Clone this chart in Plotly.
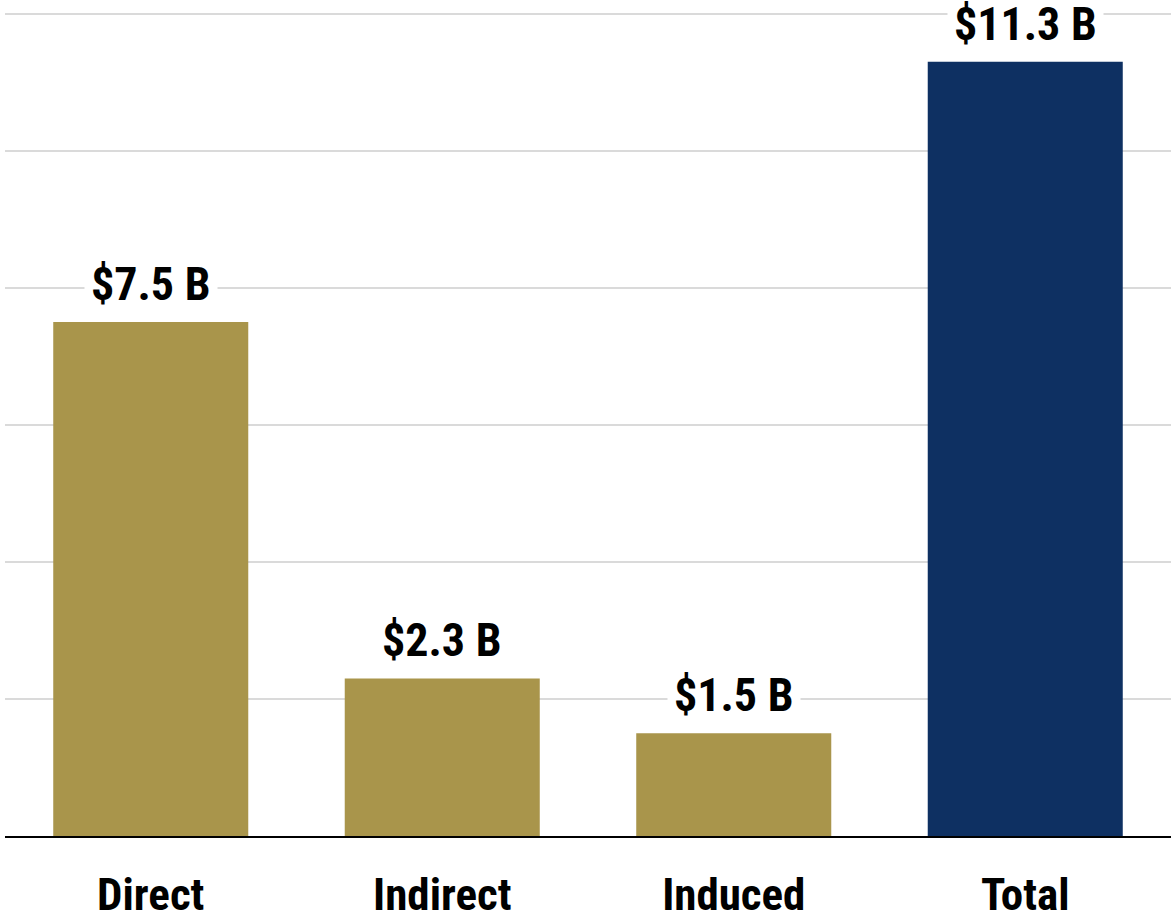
import plotly.graph_objects as go

categories = ["Direct", "Indirect", "Induced", "Total"]
values = [7.5, 2.3, 1.5, 11.3]
labels = ["$7.5 B", "$2.3 B", "$1.5 B", "$11.3 B"]
colors = ["#A9954B", "#A9954B", "#A9954B", "#0E3062"]

FONT = "Liberation Sans Narrow, Arial Narrow, Roboto Condensed, Roboto, Liberation Sans, Arial, sans-serif"

fig = go.Figure(go.Bar(x=categories, y=values, marker=dict(color=colors, line=dict(width=0)),
                       hoverinfo="skip"))

for c, v, t in zip(categories, values, labels):
    fig.add_annotation(x=c, y=v, text="<b>" + t + "</b>", showarrow=False,
                       yanchor="bottom", yshift=4, bgcolor="white", borderpad=6,
                       font=dict(family=FONT, size=46, color="black"))

fig.update_layout(
    width=1171, height=918,
    margin=dict(l=5, r=0, t=0, b=82, autoexpand=False),
    paper_bgcolor="white", plot_bgcolor="white",
    bargap=0.331, showlegend=False,
    font=dict(family=FONT, color="black"),
)
fig.update_xaxes(showline=True, linecolor="black", linewidth=2, ticks="",
                 tickfont=dict(family=FONT, size=45, color="black"),
                 ticklabelstandoff=18, showgrid=False, zeroline=False, automargin=False,
                 tickvals=categories, ticktext=["<b>" + c + "</b>" for c in categories])
fig.update_yaxes(range=[0, 12.2], tick0=0, dtick=2, showticklabels=False, automargin=False,
                 showgrid=True, gridcolor="#DADADA", gridwidth=2, zeroline=False)

fig.write_html("out.html", config={"displayModeBar": False},
               post_script="document.body.style.margin='0';document.body.style.overflow='hidden';")
